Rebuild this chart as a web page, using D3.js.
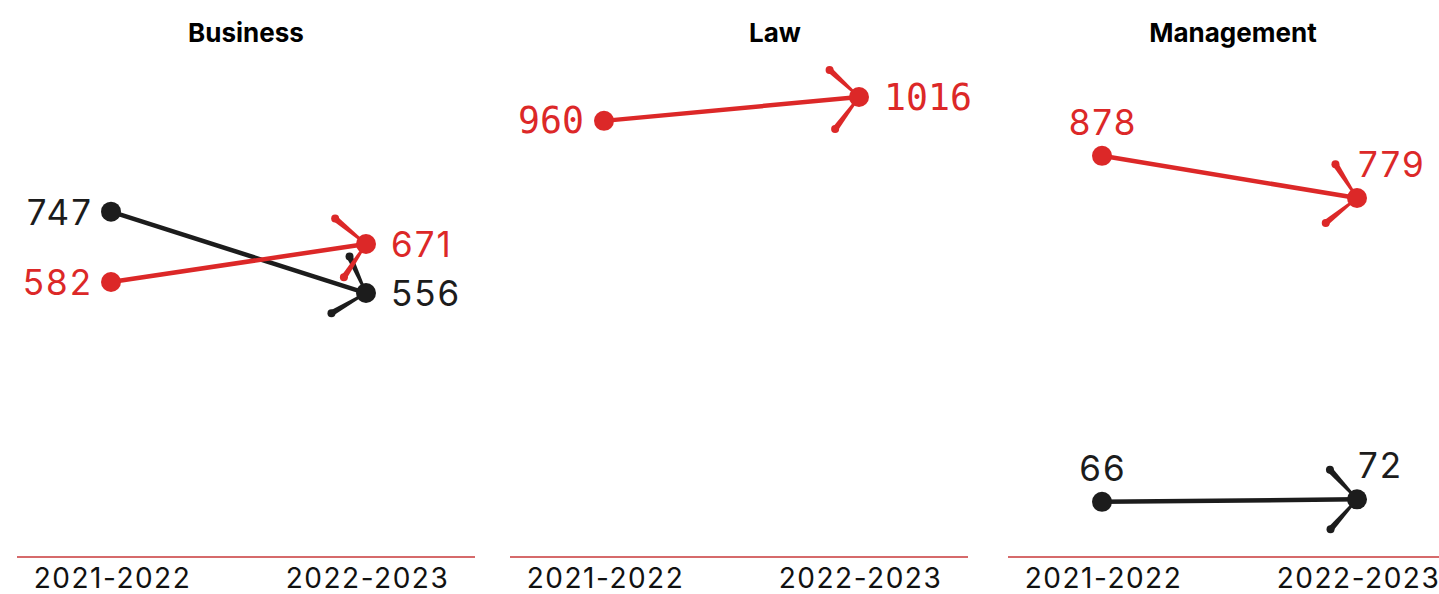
<!DOCTYPE html>
<html>
<head>
<meta charset="utf-8">
<script src="https://cdn.jsdelivr.net/npm/d3@7"></script>
<style>
  html, body { margin: 0; padding: 0; background: #fff; }
  svg { display: block; }
</style>
</head>
<body>
<svg id="chart" width="1439" height="594"></svg>
<script>
// ---- data ----
const panels = ["Business", "Law", "Management"];
const periods = ["2021-2022", "2022-2023"];
const redSeries = [[582, 671], [960, 1016], [878, 779]];
const blackSeries = [[747, 556], null, [66, 72]];

// ---- layout / style ----
const W = 1439, H = 594;
const panelLeft = [17, 510, 1008];
const panelWidth = 458;
const pointInset = [94, 349];
const titleShift = [0, 36, -4];
const labelMode = ["side", "side", "above"];
const labelFont = ["Inter, 'Noto Sans', sans-serif", "'DejaVu Sans Mono', monospace", "Inter, 'Noto Sans', sans-serif"];
const labelSize = [35, 36.5, 35];
const labelSpacing = [2, 0, 2];
const colors = { red: "#dc2828", black: "#1c1c1c" };
const baseY = 557;

const svg = d3.select("#chart");

const y = d3.scaleLinear().domain([0, 1016]).range([530, 97]);

panels.forEach((name, i) => {
  const left = panelLeft[i];
  const g = svg.append("g");
  const x = d3.scalePoint().domain(periods).range([left + pointInset[0], left + pointInset[1]]);

  // title
  g.append("text")
    .attr("x", left + panelWidth / 2 + titleShift[i])
    .attr("y", 42)
    .attr("text-anchor", "middle")
    .attr("font-family", "Inter, 'Noto Sans', sans-serif")
    .attr("font-weight", 700)
    .attr("font-size", 26)
    .attr("fill", "#000")
    .text(name);

  // baseline axis
  const axis = d3.axisBottom(x).tickSize(0).tickPadding(0);
  const ag = g.append("g").attr("transform", `translate(0,${baseY})`).call(axis);
  ag.select(".domain").remove();
  ag.append("line")
    .attr("x1", left).attr("x2", left + panelWidth)
    .attr("stroke", "#c9383a").attr("stroke-width", 1.3);
  ag.selectAll(".tick text")
    .attr("font-family", "Inter, 'Noto Sans', sans-serif")
    .attr("font-size", 28)
    .attr("letter-spacing", 1.5)
    .attr("fill", "#111")
    .attr("dy", null)
    .attr("dx", 1)
    .attr("y", 31);

  const series = [];
  if (blackSeries[i]) series.push({ vals: blackSeries[i], color: colors.black });
  if (redSeries[i]) series.push({ vals: redSeries[i], color: colors.red });

  series.forEach(s => {
    const pts = periods.map((p, k) => [x(p), y(s.vals[k])]);
    const sg = g.append("g");
    sg.append("line")
      .attr("x1", pts[0][0]).attr("y1", pts[0][1])
      .attr("x2", pts[1][0]).attr("y2", pts[1][1])
      .attr("stroke", s.color).attr("stroke-width", 4.5);

    // arrow-like spokes at the end point
    const back = Math.atan2(pts[0][1] - pts[1][1], pts[0][0] - pts[1][0]);
    const half = 48 * Math.PI / 180;
    const len = 40;
    [back - half, back + half].forEach(a => {
      const cx = pts[1][0], cy = pts[1][1];
      const tx = cx + len * Math.cos(a), ty = cy + len * Math.sin(a);
      const nx = -Math.sin(a), ny = Math.cos(a);
      const w0 = 1.1, w1 = 3.0;
      sg.append("path")
        .attr("d", `M${cx + nx * w0},${cy + ny * w0} L${tx + nx * w1},${ty + ny * w1} L${tx - nx * w1},${ty - ny * w1} L${cx - nx * w0},${cy - ny * w0} Z`)
        .attr("fill", s.color);
      sg.append("circle").attr("cx", tx).attr("cy", ty).attr("r", 4).attr("fill", s.color);
    });

    pts.forEach((pt, k) => {
      sg.append("circle").attr("cx", pt[0]).attr("cy", pt[1]).attr("r", 10).attr("fill", s.color);
      const sp = labelSpacing[i];
      const t = sg.append("text")
        .attr("font-family", labelFont[i])
        .attr("font-size", labelSize[i])
        .attr("letter-spacing", sp)
        .attr("fill", s.color)
        .text(s.vals[k]);
      if (labelMode[i] === "side") {
        t.attr("dominant-baseline", "central");
        if (k === 0) t.attr("x", pt[0] - 20 + sp).attr("y", pt[1]).attr("text-anchor", "end");
        else t.attr("x", pt[0] + 25).attr("y", pt[1]).attr("text-anchor", "start");
      } else {
        if (k === 0) t.attr("x", pt[0] + sp / 2).attr("y", pt[1] - 21).attr("text-anchor", "middle");
        else t.attr("x", pt[0] + 1).attr("y", pt[1] - 21).attr("text-anchor", "start");
      }
    });
  });
});
</script>
</body>
</html>
